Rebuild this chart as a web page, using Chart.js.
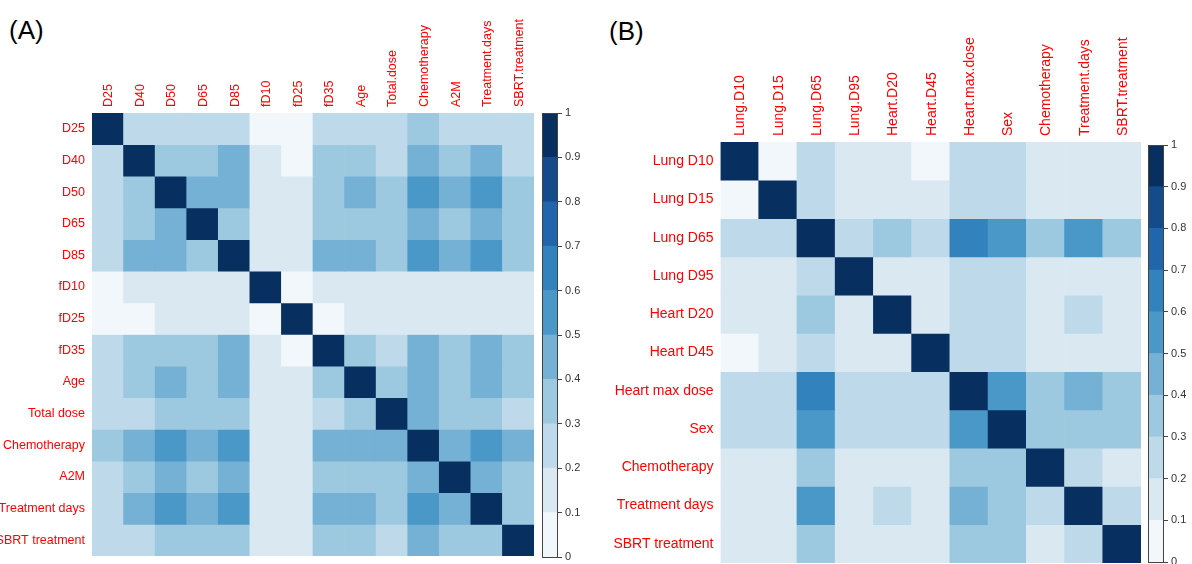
<!DOCTYPE html>
<html>
<head>
<meta charset="utf-8">
<script src="https://cdn.jsdelivr.net/npm/chart.js@4"></script>
<style>
  body { margin: 0; width: 1192px; height: 564px; background: #fff; position: relative; overflow: hidden; font-family: "Liberation Sans", Arial, sans-serif; }
  canvas { position: absolute; top: 0; }
  .tag { position: absolute; font-size: 26px; line-height: 26px; color: #000; }
</style>
</head>
<body>
<div class="tag" style="left:9px;top:17px">(A)</div>
<div class="tag" style="left:609px;top:18px">(B)</div>
<canvas id="heatA" width="545" height="564" style="left:0px"></canvas>
<canvas id="barA" width="60" height="564" style="left:536px"></canvas>
<canvas id="heatB" width="550" height="564" style="left:600px"></canvas>
<canvas id="barB" width="52" height="564" style="left:1140px"></canvas>
<script>
// panel A variables
const colsA = ["D25", "D40", "D50", "D65", "D85", "fD10", "fD25", "fD35", "Age", "Total.dose", "Chemotherapy", "A2M", "Treatment.days", "SBRT.treatment"];
const rowsA = ["D25", "D40", "D50", "D65", "D85", "fD10", "fD25", "fD35", "Age", "Total dose", "Chemotherapy", "A2M", "Treatment days", "SBRT treatment"];
const corrA = [
  [1, .25, .25, .25, .25, .05, .05, .25, .25, .25, .35, .25, .25, .25],
  [.25, 1, .35, .35, .45, .15, .05, .35, .35, .25, .45, .35, .45, .25],
  [.25, .35, 1, .45, .45, .15, .15, .35, .45, .35, .55, .45, .55, .35],
  [.25, .35, .45, 1, .35, .15, .15, .35, .35, .35, .45, .35, .45, .35],
  [.25, .45, .45, .35, 1, .15, .15, .45, .45, .35, .55, .45, .55, .35],
  [.05, .15, .15, .15, .15, 1, .05, .15, .15, .15, .15, .15, .15, .15],
  [.05, .05, .15, .15, .15, .05, 1, .05, .15, .15, .15, .15, .15, .15],
  [.25, .35, .35, .35, .45, .15, .05, 1, .35, .25, .45, .35, .45, .35],
  [.25, .35, .45, .35, .45, .15, .15, .35, 1, .35, .45, .35, .45, .35],
  [.25, .25, .35, .35, .35, .15, .15, .25, .35, 1, .45, .35, .35, .25],
  [.35, .45, .55, .45, .55, .15, .15, .45, .45, .45, 1, .45, .55, .45],
  [.25, .35, .45, .35, .45, .15, .15, .35, .35, .35, .45, 1, .45, .35],
  [.25, .45, .55, .45, .55, .15, .15, .45, .45, .35, .55, .45, 1, .35],
  [.25, .25, .35, .35, .35, .15, .15, .35, .35, .25, .45, .35, .35, 1]
];

// panel B variables
const colsB = ["Lung.D10", "Lung.D15", "Lung.D65", "Lung.D95", "Heart.D20", "Heart.D45", "Heart.max.dose", "Sex", "Chemotherapy", "Treatment.days", "SBRT.treatment"];
const rowsB = ["Lung D10", "Lung D15", "Lung D65", "Lung D95", "Heart D20", "Heart D45", "Heart max dose", "Sex", "Chemotherapy", "Treatment days", "SBRT treatment"];
const corrB = [
  [1, .05, .25, .15, .15, .05, .25, .25, .15, .15, .15],
  [.05, 1, .25, .15, .15, .15, .25, .25, .15, .15, .15],
  [.25, .25, 1, .25, .35, .25, .65, .55, .35, .55, .35],
  [.15, .15, .25, 1, .15, .15, .25, .25, .15, .15, .15],
  [.15, .15, .35, .15, 1, .15, .25, .25, .15, .25, .15],
  [.05, .15, .25, .15, .15, 1, .25, .25, .15, .15, .15],
  [.25, .25, .65, .25, .25, .25, 1, .55, .35, .45, .35],
  [.25, .25, .55, .25, .25, .25, .55, 1, .35, .35, .35],
  [.15, .15, .35, .15, .15, .15, .35, .35, 1, .25, .15],
  [.15, .15, .55, .15, .25, .15, .45, .35, .25, 1, .25],
  [.15, .15, .35, .15, .15, .15, .35, .35, .15, .25, 1]
];

// colour scale, one colour per 0.1 step
const scaleSteps = [0, 0.1, 0.2, 0.3, 0.4, 0.5, 0.6, 0.7, 0.8, 0.9];
const blues = ["#F2F7FC", "#DAE8F2", "#BED9EA", "#9DC9E0", "#74B1D5", "#4A98C8", "#3282BE", "#2166AC", "#134B8B", "#072F60"];

function binColor(v) {
  return blues[Math.min(9, Math.floor(v * 10 + 1e-9))];
}

const FONT = "'Liberation Sans', Arial, sans-serif";

// y axis: fixed width, and no extra half-label padding at the ends
function fixY(width) {
  return (s) => {
    s.width = width;
    s.paddingTop = 0;
    s.paddingBottom = 0;
  };
}

function makeHeatmap(id, cols, rows, corr, fontSize, box) {
  const datasets = rows.map((r, i) => ({
    label: r,
    data: cols.map(() => [i, i + 1]),
    backgroundColor: corr[i].map(binColor),
    borderWidth: 0,
    grouped: false,
    barPercentage: 1,
    categoryPercentage: 1
  }));

  new Chart(document.getElementById(id), {
    type: "bar",
    data: { labels: cols, datasets: datasets },
    options: {
      responsive: false,
      animation: false,
      devicePixelRatio: 1,
      layout: { autoPadding: false, padding: { left: 0, top: 0, right: box.right, bottom: box.bottom } },
      plugins: { legend: { display: false }, tooltip: { enabled: false } },
      scales: {
        x: {
          position: "top",
          grid: { display: false, drawTicks: false },
          border: { display: false },
          ticks: { autoSkip: false, minRotation: 90, maxRotation: 90, padding: 6,
            labelOffset: fontSize * 1.2 + 1,   // rotated labels sit one line left of the tick otherwise
            color: "red", font: { family: FONT, size: fontSize } },
          afterFit: (s) => { s.height = box.top; }
        },
        y: {
          min: 0,
          max: rows.length,
          reverse: true,
          grid: { display: false, drawTicks: false },
          border: { display: false },
          afterBuildTicks: (s) => { s.ticks = rows.map((r, i) => ({ value: i + 0.5 })); },
          ticks: { autoSkip: false, padding: 7, color: "red", font: { family: FONT, size: fontSize },
            callback: (v, i) => rows[i] },
          afterFit: fixY(box.left)
        }
      }
    }
  });
}

const outline = {
  id: "outline",
  afterDatasetsDraw(chart) {
    const a = chart.chartArea, ctx = chart.ctx;
    ctx.save();
    ctx.strokeStyle = "#444";
    ctx.lineWidth = 1;
    ctx.strokeRect(Math.round(a.left) + 0.5, Math.round(a.top) + 0.5, Math.round(a.right - a.left) - 1, Math.round(a.bottom - a.top));
    ctx.restore();
  }
};

function makeColorbar(id, box) {
  const datasets = scaleSteps.map((s, i) => ({
    data: [[s, s + 0.1]],
    backgroundColor: blues[i],
    borderWidth: 0,
    grouped: false,
    barPercentage: 1,
    categoryPercentage: 1
  }));
  new Chart(document.getElementById(id), {
    type: "bar",
    data: { labels: [""], datasets: datasets },
    plugins: [outline],
    options: {
      responsive: false,
      animation: false,
      devicePixelRatio: 1,
      layout: { autoPadding: false, padding: { left: box.left, top: box.top, right: 0, bottom: box.bottom } },
      plugins: { legend: { display: false }, tooltip: { enabled: false } },
      scales: {
        x: { display: false },
        y: {
          position: "right",
          min: 0,
          max: 1,
          grid: { drawOnChartArea: false, drawTicks: true, tickLength: 4, color: "#444" },
          border: { display: false },
          ticks: { stepSize: 0.1, padding: 3, color: "#333", font: { family: FONT, size: 11 },
            callback: (v) => String(parseFloat(v.toFixed(1))) },
          afterFit: fixY(box.axis)
        }
      }
    }
  });
}

makeHeatmap("heatA", colsA, rowsA, corrA, 12.5, { left: 92, top: 113, right: 11, bottom: 8 });
makeColorbar("barA", { left: 6, top: 113, bottom: 7, axis: 38 });
makeHeatmap("heatB", colsB, rowsB, corrB, 14, { left: 120.5, top: 142, right: 9, bottom: 1 });
makeColorbar("barB", { left: 8, top: 145, bottom: 2, axis: 28 });
</script>
</body>
</html>
